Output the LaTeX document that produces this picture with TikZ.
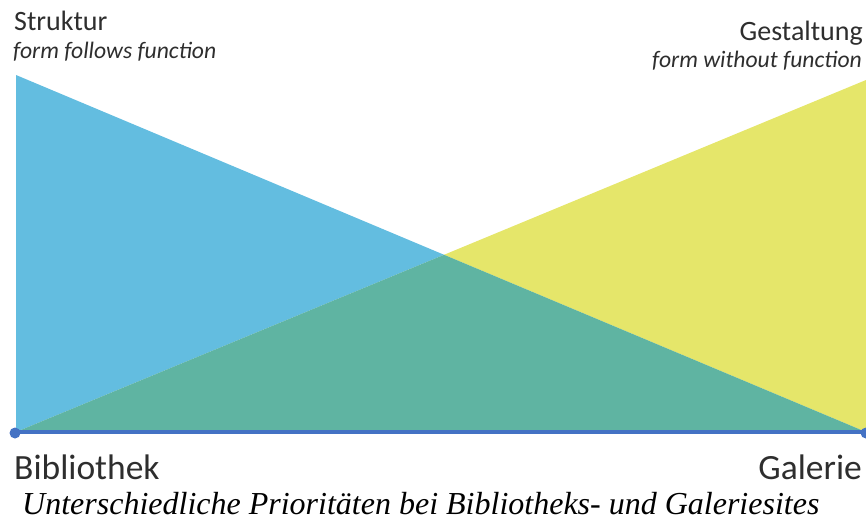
\documentclass[tikz,border=0pt]{standalone}
\usepackage{fontspec}
\setmainfont{Carlito}
\newfontfamily\capfont{Liberation Serif}
\definecolor{cblue}{HTML}{63BDE0}
\definecolor{cyellow}{HTML}{E5E66A}
\definecolor{cgreen}{HTML}{5FB4A2}
\definecolor{caxis}{HTML}{4472C4}
\definecolor{ctext}{HTML}{2E2E2E}
\begin{document}
\begin{tikzpicture}[x=1pt,y=-1pt,
  lab/.style={inner sep=0pt,text=ctext,font=\fontsize{28}{30}\selectfont},
  big/.style={inner sep=0pt,text=ctext,font=\fontsize{35.5}{38}\selectfont},
  sub/.style={inner sep=0pt,text=ctext,font=\fontsize{23.6}{26}\selectfont\itshape},
  captext/.style={inner sep=0pt,text=black,font=\capfont\fontsize{32}{34}\selectfont\itshape},
  dot/.style={circle,fill=caxis,inner sep=0pt,minimum size=11pt}]
\useasboundingbox (0,0) rectangle (866,525);
\coordinate (BL) at (16,432);
\coordinate (BR) at (866,432);
\coordinate (TL) at (16,75);
\coordinate (TR) at (866,80);
\coordinate (X) at (intersection of TL--BR and BL--TR);
\fill[cblue] (TL) -- (X) -- (BL) -- cycle;
\fill[cyellow] (TR) -- (BR) -- (X) -- cycle;
\fill[cgreen] (BL) -- (X) -- (BR) -- cycle;
\draw[caxis,line width=3.5pt] (BL) -- (BR);
\node[dot] (d1) at (15,433) {};
\node[dot] (d2) at (866,433) {};
\node[lab,anchor=base west] (s) at (14,30) {Struktur};
\node[sub,anchor=base west] (sf) at (13,58) {form follows function};
\node[lab,anchor=base east] (g) at (863,40) {Gestaltung};
\node[sub,anchor=base east] (gf) at (862,67) {form without function};
\node[big,anchor=base west] (b) at (14,479) {Bibliothek};
\node[big,anchor=base east] (ga) at (862,479) {Galerie};
\node[captext,anchor=base west] (c) at (22,514) {Unterschiedliche Prioritäten bei Bibliotheks- und Galeriesites};
\end{tikzpicture}
\end{document}
